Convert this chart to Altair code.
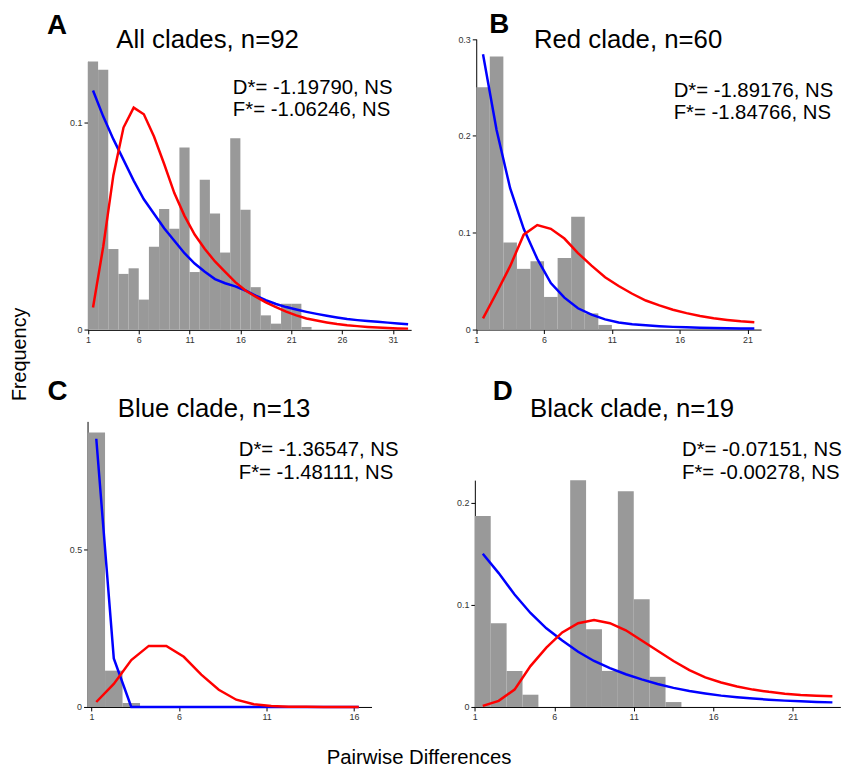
import altair as alt
import pandas as pd

W, H = 845, 763
FONT = "Liberation Sans"

# ---------------- data ----------------
letters = ["A", "B", "C", "D"]
titles = ["All clades, n=92", "Red clade, n=60", "Blue clade, n=13", "Black clade, n=19"]
d_star = ["D*= -1.19790, NS", "D*= -1.89176, NS", "D*= -1.36547, NS", "D*= -0.07151, NS"]
f_star = ["F*= -1.06246, NS", "F*= -1.84766, NS", "F*= -1.48111, NS", "F*= -0.00278, NS"]

# Panel A (observed histogram, bins starting at 1)
a_bars = [0.1295, 0.1255, 0.0390, 0.0270, 0.0297, 0.0146, 0.0401, 0.0583, 0.0488, 0.0880,
          0.0279, 0.0724, 0.0561, 0.0373, 0.0925, 0.0580, 0.0206, 0.0070, 0.0030, 0.0126,
          0.0126, 0.0014]
a_blue = [0.1155, 0.103, 0.092, 0.082, 0.072, 0.063, 0.056, 0.049, 0.043, 0.037, 0.032,
          0.028, 0.0245, 0.0225, 0.021, 0.019, 0.0165, 0.0143, 0.0125, 0.011, 0.0098,
          0.0087, 0.0077, 0.0068, 0.006, 0.0052, 0.0047, 0.0043, 0.0039, 0.0035, 0.0031,
          0.0027]
a_red = [0.0108, 0.040, 0.0745, 0.0976, 0.1072, 0.104, 0.0933, 0.080, 0.066, 0.055, 0.046,
         0.039, 0.033, 0.028, 0.023, 0.019, 0.016, 0.0133, 0.011, 0.0088, 0.007, 0.0055,
         0.0045, 0.0036, 0.0028, 0.0022, 0.0018, 0.0014, 0.0011, 0.0009, 0.0007, 0.0006]

# Panel B
b_bars = [0.2503, 0.282, 0.090, 0.0627, 0.0706, 0.0337, 0.0739, 0.1166, 0.0167, 0.0048]
b_blue = [0.2843, 0.206, 0.146, 0.104, 0.073, 0.048, 0.033, 0.022, 0.0155, 0.0105, 0.0073,
          0.0055, 0.0044, 0.0035, 0.0028, 0.0023, 0.0019, 0.0016, 0.0013, 0.0011, 0.001]
b_red = [0.0116, 0.038, 0.0655, 0.098, 0.108, 0.104, 0.094, 0.079, 0.066, 0.054, 0.045,
         0.037, 0.030, 0.025, 0.0205, 0.017, 0.014, 0.0116, 0.0099, 0.0085, 0.0076]

# Panel C
c_bars = [0.870, 0.115, 0.0126]
c_blue = [0.850, 0.154, 0, 0, 0, 0, 0, 0, 0, 0, 0, 0, 0, 0, 0, 0]
c_red = [0.0157, 0.073, 0.1485, 0.1935, 0.1935, 0.159, 0.1025, 0.0544, 0.023, 0.0084,
         0.003, 0.001, 0.0005, 0.0002, 0.0001, 0.0]

# Panel D
d_bars = [0.1869, 0.082, 0.0353, 0.012, 0, 0, 0.222, 0.076, 0.0353, 0.211, 0.1054, 0.0295,
          0.0048]
d_blue = [0.150, 0.131, 0.110, 0.092, 0.077, 0.065, 0.054, 0.045, 0.038, 0.032, 0.027,
          0.0225, 0.0187, 0.0156, 0.0132, 0.0111, 0.0096, 0.0083, 0.0071, 0.0062, 0.0055,
          0.0049, 0.0045]
d_red = [0.001, 0.006, 0.017, 0.040, 0.058, 0.073, 0.082, 0.085, 0.082, 0.075, 0.065, 0.055,
         0.045, 0.036, 0.029, 0.024, 0.020, 0.017, 0.0148, 0.013, 0.0118, 0.011, 0.0105]

x_ticks = [[1, 6, 11, 16, 21, 26, 31], [1, 6, 11, 16, 21], [1, 6, 11, 16], [1, 6, 11, 16, 21]]
y_ticks = [[0, 0.1], [0, 0.1, 0.2, 0.3], [0, 0.5], [0, 0.1, 0.2]]


def panel(bars, blue, red, xdom, xrng, ydom, yrng, xt, yt):
    start = xdom[0]
    bar_df = pd.DataFrame({"x0": [start + i for i in range(len(bars))], "freq": bars})
    bar_df["x1"] = bar_df["x0"] + 1
    n = len(blue)
    line_df = pd.DataFrame({
        "x": [start + 0.5 + i for i in range(n)] * 2,
        "freq": list(blue) + list(red),
        "series": ["blue"] * n + ["red"] * n,
    })
    xs = alt.Scale(domain=xdom, range=xrng, nice=False, zero=False)
    ys = alt.Scale(domain=ydom, range=yrng, nice=False)
    xa = alt.Axis(values=xt, format="d", title=None, grid=False, orient="bottom",
                  offset=yrng[0] - H, labelFlush=False)
    ya = alt.Axis(values=yt, format="~g", title=None, grid=False, orient="left",
                  offset=-xrng[0], labelFlush=False)
    bars_l = alt.Chart(bar_df).mark_rect(color="#999999").encode(
        x=alt.X("x0:Q", scale=xs, axis=xa),
        x2="x1:Q",
        y=alt.Y("freq:Q", scale=ys, axis=ya),
        y2=alt.datum(0),
    )
    lines_l = alt.Chart(line_df).mark_line(strokeWidth=2.5).encode(
        x=alt.X("x:Q", scale=xs, axis=xa),
        y=alt.Y("freq:Q", scale=ys, axis=ya),
        color=alt.Color("series:N", scale=alt.Scale(domain=["blue", "red"],
                                                    range=["#0000ff", "#ff0000"]),
                        legend=None),
    )
    return alt.layer(bars_l, lines_l)


def label(text, x, y, size, weight="normal", align="left", angle=0):
    return alt.Chart(pd.DataFrame({"t": [text]})).mark_text(
        align=align, baseline="alphabetic", fontSize=size, fontWeight=weight,
        font=FONT, color="black", angle=angle,
    ).encode(x=alt.value(x), y=alt.value(y), text="t:N")


pA = panel(a_bars, a_blue, a_red, [1, 32.8], [80.7, 407], [0, 0.1295], [321.3, 50.3],
           x_ticks[0], y_ticks[0])
pB = panel(b_bars, b_blue, b_red, [1, 22], [472.7, 760.3], [0, 0.3], [321, 27.7],
           x_ticks[1], y_ticks[1])
pC = panel(c_bars, c_blue, c_red, [0.77, 17.0], [80.3, 367], [0, 0.905], [702, 413.7],
           x_ticks[2], y_ticks[2])
pD = panel(d_bars, d_blue, d_red, [1, 24], [471.3, 840.3], [0, 0.222], [702, 473],
           x_ticks[3], y_ticks[3])

letter_pos = [(49.5, 23), (496, 22), (50, 392), (499.5, 392)]
title_pos = [(201.5, 37), (626, 37), (208, 409), (630, 409)]
stat_pos = [(227, 82.7), (672, 86), (233, 449), (680.5, 449)]

texts = []
for i in range(4):
    texts.append(label(letters[i], letter_pos[i][0], letter_pos[i][1], 28, "bold", "center"))
    texts.append(label(titles[i], title_pos[i][0], title_pos[i][1], 26, "normal", "center"))
    texts.append(label(d_star[i], stat_pos[i][0], stat_pos[i][1], 20.5))
    texts.append(label(f_star[i], stat_pos[i][0], stat_pos[i][1] + 22.7, 20.5))

texts.append(label("Frequency", 18, 346, 20, "normal", "center", 270))
texts.append(label("Pairwise Differences", 415, 760, 20.5, "normal", "center"))

chart = alt.layer(pA, pB, pC, pD, *texts).resolve_scale(
    x="independent", y="independent"
).properties(
    width=W, height=H, padding=0, autosize=alt.AutoSizeParams(type="none"),
    background="white",
).configure_view(stroke=None).configure_axis(
    domainColor="black", tickColor="black", labelColor="#333333", labelFontSize=9,
    labelFont=FONT, tickSize=4, labelPadding=2, domainWidth=1, tickWidth=1,
)

chart.save("out.html", embed_options={"renderer": "svg", "actions": False})
